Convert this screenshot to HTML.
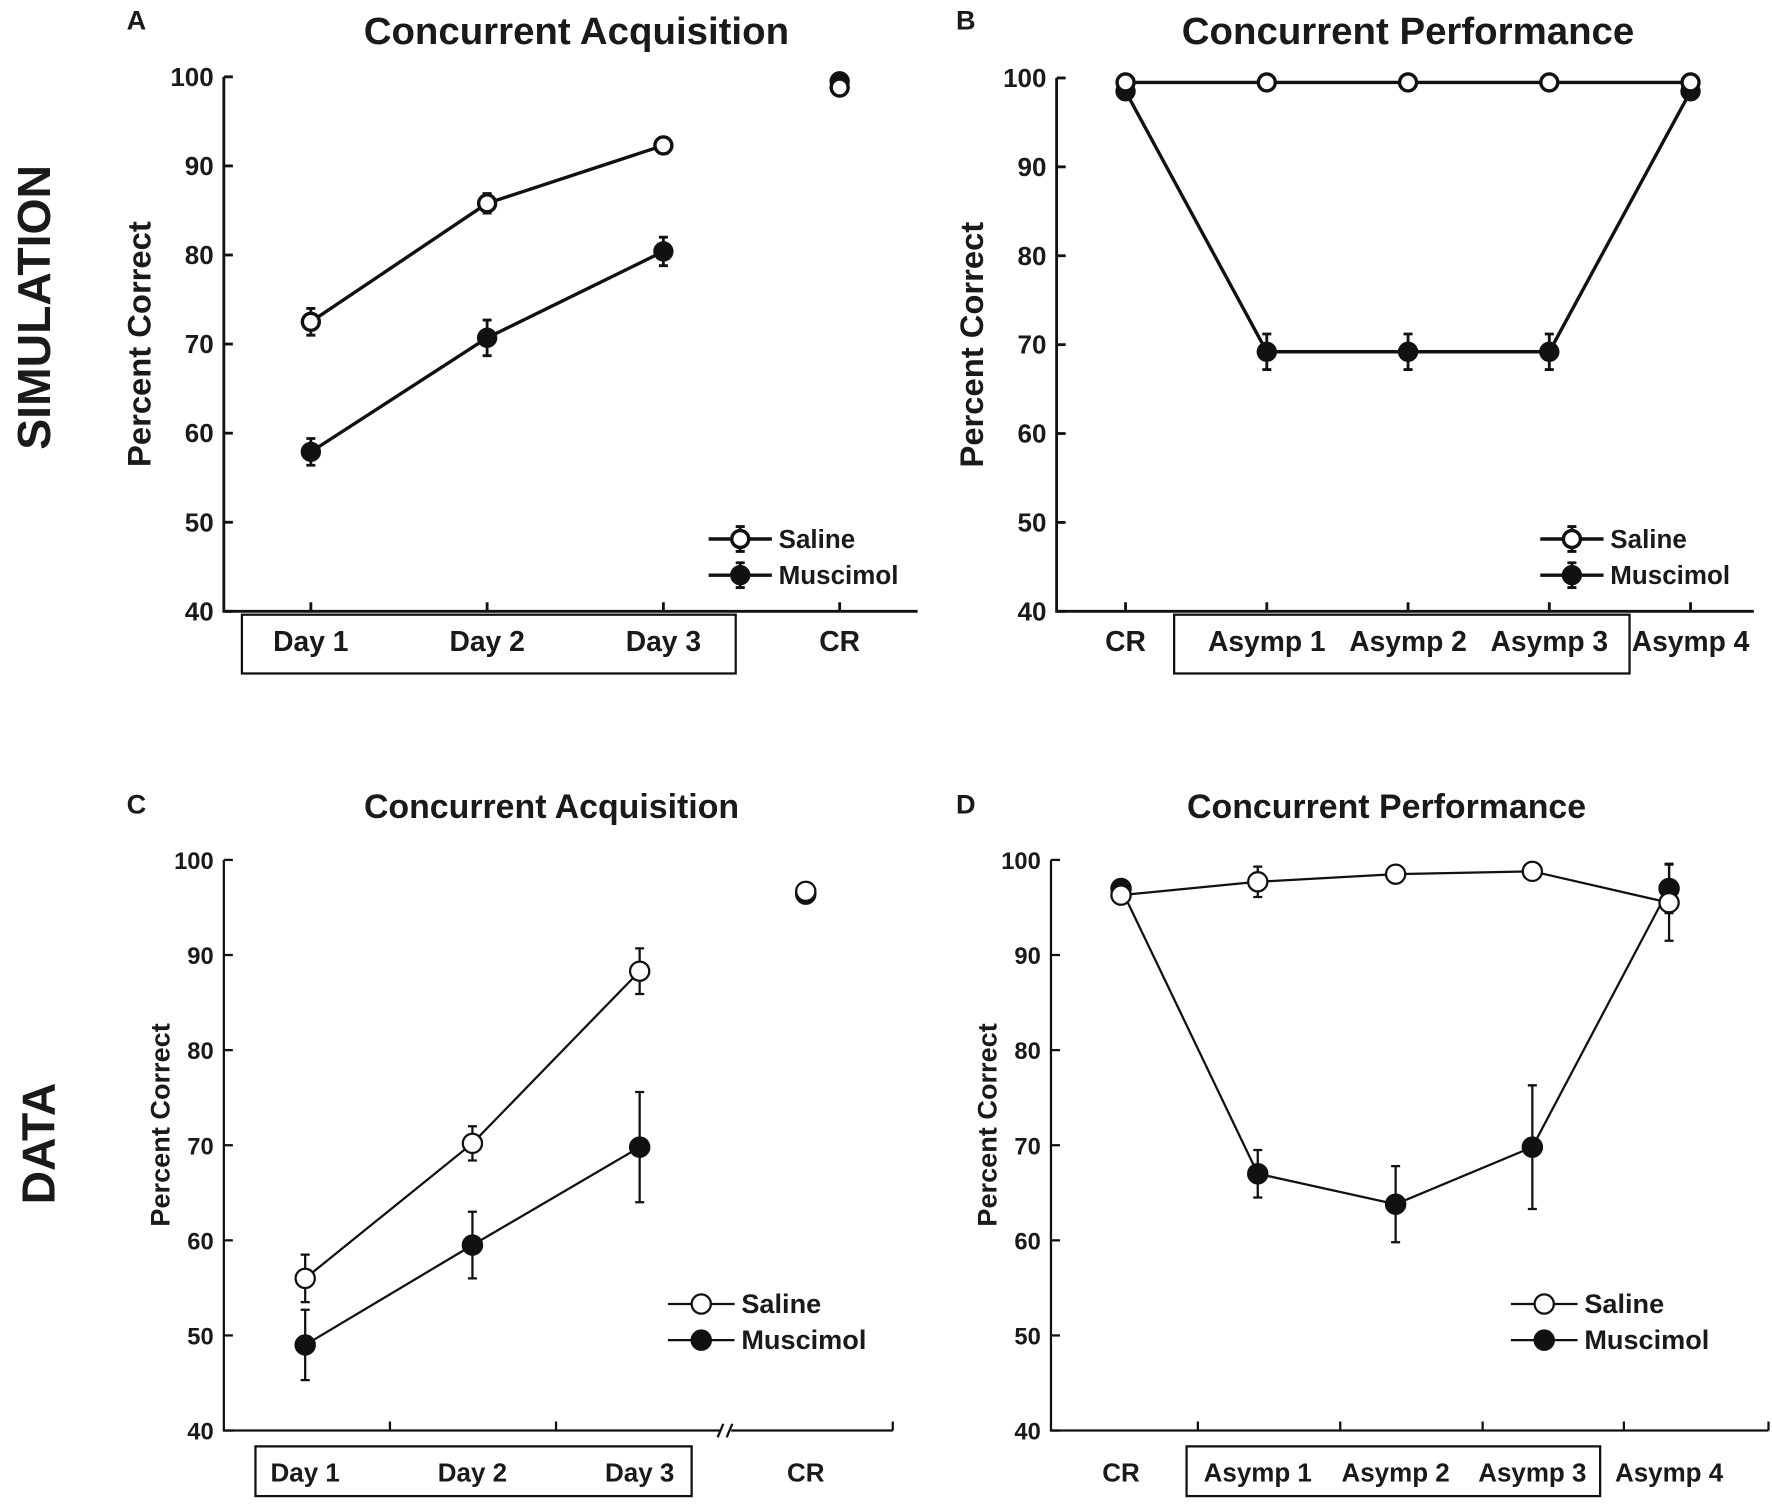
<!DOCTYPE html>
<html><head><meta charset="utf-8"><style>
html,body{margin:0;padding:0;background:#fff}
svg{display:block;font-family:"Liberation Sans",Arial,sans-serif}
text{font-weight:bold;fill:#1a1a1a}
</style></head><body>
<svg id="fig" xmlns="http://www.w3.org/2000/svg" width="1772" height="1504" viewBox="0 0 1568 1331">
<text x="30" y="272" font-size="41" transform="rotate(-90 30 272)" text-anchor="middle" dominant-baseline="central">SIMULATION</text>
<text x="34" y="1012" font-size="41" transform="rotate(-90 34 1012)" text-anchor="middle" dominant-baseline="central">DATA</text>
</svg>
<script>
const yTicks=[40,50,60,70,80,90,100];
const catsA=["Day 1","Day 2","Day 3","CR"];
const salA=[72.5,85.8,92.3,98.8], salAErr=[1.5,1.1,0.9,0.6];
const musA=[57.9,70.7,80.4,99.5], musAErr=[1.5,2.0,1.6,0.5];
const catsB=["CR","Asymp 1","Asymp 2","Asymp 3","Asymp 4"];
const salB=[99.5,99.5,99.5,99.5,99.5], salBErr=[0.3,0.3,0.3,0.3,0.3];
const musB=[98.5,69.2,69.2,69.2,98.5], musBErr=[0.5,2.0,2.0,2.0,0.5];
const catsC=["Day 1","Day 2","Day 3","CR"];
const salC=[56,70.2,88.3,96.7], salCErr=[2.5,1.8,2.4,0.6];
const musC=[49,59.5,69.8,96.4], musCErr=[3.7,3.5,5.8,0.5];
const catsD=["CR","Asymp 1","Asymp 2","Asymp 3","Asymp 4"];
const salD=[96.3,97.7,98.5,98.8,95.5], salDErr=[0,1.6,0,0,4];
const musD=[97,67,63.8,69.8,97], musDErr=[0.6,2.5,4,6.5,2.6];

const svg=document.getElementById('fig');
const NS="http://www.w3.org/2000/svg";
function el(tag,attrs,parent){const e=document.createElementNS(NS,tag);for(const k in attrs)e.setAttribute(k,attrs[k]);(parent||svg).appendChild(e);return e;}
function txt(s,attrs,parent){const e=el('text',attrs,parent);e.textContent=s;return e;}

function panel(o){
  const g=el('g',{});
  
  
  const y=v=>o.y0+(v-40)/60*(o.y1-o.y0);
  const x=i=>o.xs[i];
  const sw=o.sw;
  const lt=txt(o.letter,{x:o.lx,y:o.ly,'font-size':24});
  
  
  const tt=txt(o.title,{x:o.tx,y:o.ty,'font-size':o.tfs,'text-anchor':'middle'},g);
  
  
  const ax=el('path',{d:`M${o.ax} ${y(100)} L${o.ax} ${y(40)} L${o.axEnd} ${y(40)}`,stroke:'#111','stroke-width':o.axw,fill:'none'},g);
  
  
  yTicks.forEach(v=>{
    el('line',{x1:o.ax,x2:o.ax+8,y1:y(v),y2:y(v),stroke:'#111','stroke-width':o.axw},g);
    const t=txt(v,{x:o.ax-9,y:y(v)+8,'font-size':o.fs,'text-anchor':'end'},g);
    
    
  });
  o.tickXs.forEach(tx=>el('line',{x1:tx,x2:tx,y1:y(40),y2:y(40)-8,stroke:'#111','stroke-width':o.axw},g));
  const yc=(y(40)+y(100))/2+o.yloff;
  const yl=txt('Percent Correct',{x:o.ylx,y:yc,'font-size':o.ylfs,'text-anchor':'middle',transform:`rotate(-90 ${o.ylx} ${yc})`},g);
  
  
  o.cats.forEach((c,i)=>{
    const t=txt(c,{x:x(i),y:o.catY,'font-size':o.cfs,'text-anchor':'middle'},g);
    
    
  });
  const bx=el('rect',{x:o.box[0],y:o.box[1],width:o.box[2]-o.box[0],height:o.box[3]-o.box[1],fill:'none',stroke:'#111','stroke-width':2},g);
  
  
  if(o.brk){
    el('rect',{x:o.brk-6,y:y(40)-6,width:10,height:12,fill:'#fff'},g);
    el('line',{x1:o.brk-8,y1:y(40)+6,x2:o.brk-3,y2:y(40)-6,stroke:'#111','stroke-width':2},g);
    el('line',{x1:o.brk,y1:y(40)+6,x2:o.brk+5,y2:y(40)-6,stroke:'#111','stroke-width':2},g);
  }
  [[o.mus,o.musE,'#111','muscimol'],[o.sal,o.salE,'#fff','saline']].forEach(([vals,errs,fill,nm])=>{
    const pts=vals.slice(0,o.nLine).map((v,i)=>`${x(i)},${y(v)}`).join(' ');
    const pl=el('polyline',{points:pts,fill:'none',stroke:'#111','stroke-width':sw},g);
    
    
    vals.forEach((v,i)=>{
      if(errs[i]>0){
        const eb=el('path',{d:`M${x(i)} ${y(v-errs[i])} L${x(i)} ${y(v+errs[i])} M${x(i)-4} ${y(v-errs[i])} L${x(i)+4} ${y(v-errs[i])} M${x(i)-4} ${y(v+errs[i])} L${x(i)+4} ${y(v+errs[i])}`,stroke:'#111','stroke-width':o.ebw},g);
        
        
      }
      const c=el('circle',{cx:x(i),cy:y(v),r:o.r,fill:fill,stroke:'#111','stroke-width':o.msw},g);
      
      
    });
  });
  [['Saline','#fff',o.leg[2]],['Muscimol','#111',o.leg[3]]].forEach(([lab,fill,ly])=>{
    const lg=el('g',{},g);
    
    
    el('line',{x1:o.leg[0],x2:o.leg[1],y1:ly,y2:ly,stroke:'#111','stroke-width':sw},lg);
    const mx=(o.leg[0]+o.leg[1])/2;
    if(o.legErr) el('path',{d:`M${mx} ${ly-11} L${mx} ${ly+11} M${mx-4} ${ly-11} L${mx+4} ${ly-11} M${mx-4} ${ly+11} L${mx+4} ${ly+11}`,stroke:'#111','stroke-width':2.5},lg);
    el('circle',{cx:mx,cy:ly,r:o.r,fill:fill,stroke:'#111','stroke-width':o.msw},lg);
    txt(lab,{x:o.leg[1]+6,y:ly+8,'font-size':o.lfs},lg);
  });
}
panel({name:'panel-a-simulation-acquisition',letter:'A',lx:112,ly:26,title:'Concurrent Acquisition',tx:510,ty:39,tfs:34,
  ax:198,axEnd:812,y0:541,y1:68,axw:2.5,fs:23,cfs:25,lfs:23,ylx:133,ylfs:29,yloff:0,xs:[275,431,587,743],tickXs:[275,431,587,743],
  cats:catsA,catY:576,box:[214,544,651,596],sal:salA,salE:salAErr,mus:musA,musE:musAErr,nLine:3,
  sw:3,r:7.5,msw:3,ebw:2.5,leg:[627,683,477,509],legErr:true});
panel({name:'panel-b-simulation-performance',letter:'B',lx:846,ly:26,title:'Concurrent Performance',tx:1246,ty:39,tfs:34,
  ax:935,axEnd:1552,y0:541,y1:69,axw:2.5,fs:23,cfs:25,lfs:23,ylx:870,ylfs:29,yloff:0,xs:[996,1121,1246,1371,1496],tickXs:[996,1121,1246,1371,1496],
  cats:catsB,catY:576,box:[1039,544,1442,596],sal:salB,salE:salBErr,mus:musB,musE:musBErr,nLine:5,
  sw:3,r:7.5,msw:3,ebw:2.5,leg:[1363,1419,477,509],legErr:true});
panel({name:'panel-c-data-acquisition',letter:'C',lx:112,ly:720,title:'Concurrent Acquisition',tx:488,ty:724,tfs:30,
  ax:198,axEnd:790,y0:1266,y1:761,axw:2,fs:21,cfs:23,lfs:24,ylx:150,ylfs:24,yloff:-18,xs:[270,418,566,713],tickXs:[345,492,790],
  cats:catsC,catY:1311,box:[226,1280,612,1324],sal:salC,salE:salCErr,mus:musC,musE:musCErr,nLine:3,
  sw:2,r:8.5,msw:2,ebw:2,leg:[591,650,1154,1186],legErr:false,brk:643});
panel({name:'panel-d-data-performance',letter:'D',lx:846,ly:720,title:'Concurrent Performance',tx:1227,ty:724,tfs:30,
  ax:930,axEnd:1565,y0:1266,y1:761,axw:2,fs:21,cfs:23,lfs:24,ylx:882,ylfs:24,yloff:-18,xs:[992,1113,1235,1356,1477],tickXs:[1060,1186,1312,1437,1565],
  cats:catsD,catY:1311,box:[1050,1280,1416,1324],sal:salD,salE:salDErr,mus:musD,musE:musDErr,nLine:5,
  sw:2,r:8.5,msw:2,ebw:2,leg:[1337,1396,1154,1186],legErr:false});
</script>
</body></html>
